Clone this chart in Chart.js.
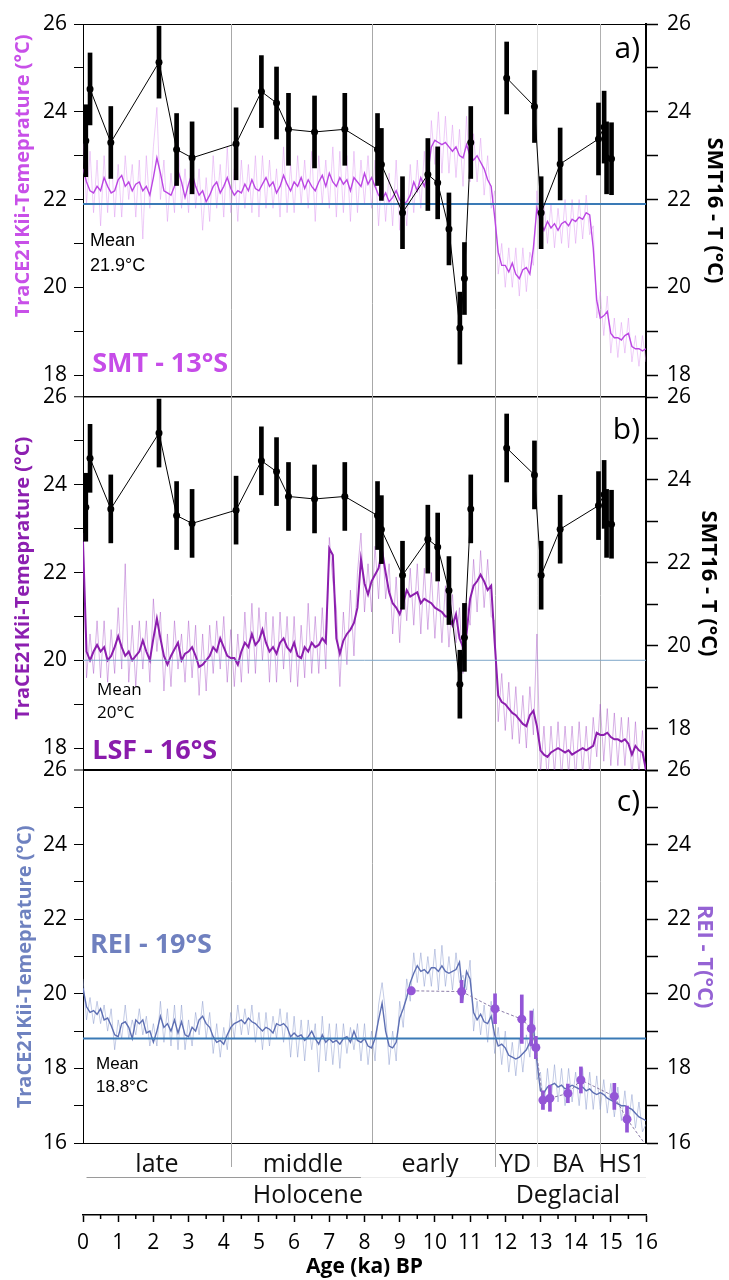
<!DOCTYPE html>
<html>
<head>
<meta charset="utf-8">
<title>TraCE21Kii temperature - SMT, LSF, REI</title>
<script src="https://cdn.jsdelivr.net/npm/chart.js@4.4.1/dist/chart.umd.min.js"></script>
<style>
  html, body { margin: 0; padding: 0; background: #ffffff; }
  canvas { display: block; }
</style>
</head>
<body>
<canvas id="chart" width="729" height="1280"></canvas>
<script>
// model sample ages (ka BP)
const ages = [
  0,0.1,0.2,0.3,0.4,0.5,0.6,0.7,0.8,0.9,
  1,1.1,1.2,1.3,1.4,1.5,1.6,1.7,1.8,1.9,
  2,2.1,2.2,2.3,2.4,2.5,2.6,2.7,2.8,2.9,
  3,3.1,3.2,3.3,3.4,3.5,3.6,3.7,3.8,3.9,
  4,4.1,4.2,4.3,4.4,4.5,4.6,4.7,4.8,4.9,
  5,5.1,5.2,5.3,5.4,5.5,5.6,5.7,5.8,5.9,
  6,6.1,6.2,6.3,6.4,6.5,6.6,6.7,6.8,6.9,
  7,7.1,7.2,7.3,7.4,7.5,7.6,7.7,7.8,7.9,
  8,8.1,8.2,8.3,8.4,8.5,8.6,8.7,8.8,8.9,
  9,9.1,9.2,9.3,9.4,9.5,9.6,9.7,9.8,9.9,
  10,10.1,10.2,10.3,10.4,10.5,10.6,10.7,10.8,10.9,
  11,11.1,11.2,11.3,11.4,11.5,11.6,11.7,11.8,11.9,
  12,12.1,12.2,12.3,12.4,12.5,12.6,12.7,12.8,12.9,
  13,13.1,13.2,13.3,13.4,13.5,13.6,13.7,13.8,13.9,
  14,14.1,14.2,14.3,14.4,14.5,14.6,14.7,14.8,14.9,
  15,15.1,15.2,15.3,15.4,15.5,15.6,15.7,15.8,15.9,
  16
];

// SMT - 13°S, TraCE21Kii (smoothed and raw)
const smtModel = [
  22.7,22.4,22.2,22.15,22.3,22.2,22.5,22.3,22.15,22.2,
  22.45,22.55,22.3,22.4,22.2,22.35,22.4,22.2,22.3,22.1,
  22.5,22.95,22.6,22.2,22.15,22.1,22.3,22.65,22.4,22.05,
  22.35,22.6,22.3,22.1,22.2,21.95,22.1,22.3,22.4,22.15,
  22.3,22.5,22.25,22.1,22.2,22.15,22.35,22.2,22.45,22.25,
  22.2,22.35,22.5,22.3,22.4,22.15,22.3,22.55,22.35,22.2,
  22.4,22.3,22.5,22.25,22.45,22.3,22.2,22.4,22.55,22.3,
  22.6,22.4,22.3,22.5,22.35,22.45,22.2,22.5,22.4,22.3,
  22.6,22.35,22.5,22.3,22.1,22.0,22.15,21.95,22.05,22.2,
  22.0,21.9,21.95,22.1,22.4,22.2,22.5,22.3,22.6,23.2,
  23.35,23.3,23.25,23.3,23.2,23.1,23.2,23.0,22.95,23.25,
  23.0,22.9,23.0,22.85,22.7,22.45,22.3,21.6,20.8,20.5,
  20.5,20.35,20.55,20.3,20.2,20.4,20.45,20.3,20.9,21.8,
  21.5,21.3,21.5,21.35,21.45,21.3,21.45,21.5,21.4,21.55,
  21.5,21.6,21.55,21.7,21.65,20.9,19.7,19.3,19.35,19.45,
  18.95,18.85,18.85,18.8,18.9,18.95,18.65,18.6,18.6,18.55,
  18.6
];
const smtRaw = [
  23.4,21.9,23.1,21.7,22.9,21.4,23.0,21.7,23.1,21.6,
  22.8,21.6,23.0,22.0,22.8,21.6,22.9,21.1,23.0,21.8,
  23.2,24.1,22.0,22.9,21.5,22.6,21.7,23.5,21.8,22.7,
  21.7,23.3,21.8,22.7,21.3,22.5,21.5,23.0,21.8,22.8,
  21.6,23.2,21.7,22.7,21.5,22.9,21.8,22.8,21.7,23.0,
  21.6,23.0,21.8,22.9,21.8,22.7,21.6,23.2,21.7,22.8,
  21.7,23.0,21.9,22.9,21.8,23.1,21.5,23.0,21.9,22.9,
  21.8,23.2,21.6,23.1,21.7,23.0,21.5,23.1,21.7,22.9,
  21.9,23.0,21.8,22.9,21.4,22.7,21.5,22.6,21.4,22.9,
  21.3,22.5,21.4,22.8,21.7,22.9,21.8,23.1,21.9,23.8,
  22.8,24.0,22.6,23.9,22.6,23.7,22.5,23.6,22.3,23.9,
  22.4,23.5,22.4,23.4,22.1,23.0,21.8,22.2,20.3,21.0,
  20.0,20.9,20.0,20.9,19.8,20.9,19.9,20.8,20.5,22.2,
  21.0,21.9,21.0,21.9,20.9,21.8,21.0,22.0,20.9,22.0,
  21.0,22.0,21.1,22.1,21.2,21.4,19.3,19.9,18.9,19.8,
  18.5,19.3,18.4,19.2,18.5,19.3,18.3,18.9,18.2,18.9,
  18.3
];

// LSF - 16°S, TraCE21Kii
const lsfModel = [
  22.7,20.2,20.0,20.2,20.35,20.2,20.3,20.0,20.1,20.3,
  20.55,20.3,20.1,20.2,20.0,20.1,20.2,20.45,20.2,20.0,
  20.5,20.95,20.5,20.1,19.9,20.1,20.25,20.4,20.0,20.15,
  20.2,20.3,20.1,19.85,19.9,20.0,20.1,20.3,20.2,20.5,
  20.3,20.1,20.05,20.05,19.9,20.2,20.4,20.3,20.6,20.35,
  20.45,20.7,20.4,20.2,20.3,20.15,20.4,20.5,20.3,20.2,
  20.4,20.1,20.05,20.3,20.2,20.4,20.3,20.35,20.5,20.4,
  22.55,22.4,20.5,20.15,20.45,20.6,20.7,20.85,21.2,22.3,
  21.75,21.5,21.8,21.95,22.1,22.5,22.0,21.55,21.3,21.2,
  21.05,21.3,21.6,21.45,21.5,21.55,21.3,21.4,21.35,21.3,
  21.2,21.15,21.1,21.0,21.0,20.8,21.05,20.5,20.3,20.6,
  21.4,21.7,21.8,21.95,21.8,21.6,21.7,20.4,19.2,19.05,
  19.0,18.9,18.8,18.75,18.65,18.55,18.5,18.75,18.85,18.5,
  17.95,17.85,17.8,17.9,17.95,18.0,17.95,17.9,17.95,17.85,
  17.9,17.95,18.0,17.95,18.0,18.05,18.35,18.3,18.3,18.35,
  18.25,18.2,18.2,18.15,18.2,18.1,17.85,18.05,17.95,17.9,
  17.5
];
const lsfRaw = [
  22.9,19.6,20.6,19.7,20.9,19.6,20.9,19.5,20.7,19.7,
  21.2,19.8,22.2,19.5,20.8,19.4,20.9,19.8,20.9,19.5,
  21.4,20.2,21.1,19.3,20.6,19.4,20.9,19.8,20.6,19.5,
  20.9,19.6,20.8,19.2,20.6,19.3,20.8,19.7,20.9,19.8,
  21.0,19.5,20.7,19.4,20.6,19.5,21.1,19.7,21.3,19.7,
  21.2,20.0,21.1,19.5,21.0,19.5,21.1,19.8,21.0,19.5,
  21.0,19.4,20.8,19.6,21.3,19.7,21.0,19.7,21.2,19.8,
  22.8,21.8,21.2,19.4,21.1,19.9,21.6,20.1,22.0,22.9,
  21.1,22.2,21.1,22.6,21.4,22.9,21.4,22.2,20.6,21.9,
  20.4,22.0,20.9,22.1,20.8,22.2,20.6,22.1,20.7,22.0,
  20.5,21.8,20.4,21.7,20.3,21.5,20.4,21.2,19.7,21.3,
  20.8,22.3,21.1,22.5,21.2,22.3,21.0,20.9,18.6,19.7,
  18.4,19.5,18.2,19.4,18.1,19.2,18.0,19.4,18.3,20.6,
  17.4,18.5,17.2,18.5,17.4,18.6,17.3,18.5,17.4,18.5,
  17.3,18.6,17.4,18.5,17.4,18.7,17.8,19.0,17.7,18.9,
  17.6,18.8,17.6,18.7,17.6,18.7,17.3,18.6,17.4,18.4,
  17.2
];

// REI - 19°S, TraCE21Kii
const reiModel = [
  20.15,19.65,19.5,19.55,19.45,19.6,19.3,19.35,19.15,18.9,
  18.85,19.2,19.25,19.1,18.8,19.3,19.2,19.3,18.95,19.0,
  18.7,19.0,19.4,19.1,19.2,19.0,19.3,18.95,19.25,18.9,
  18.85,19.1,19.0,19.3,19.4,19.2,19.1,18.85,18.7,18.75,
  18.65,18.9,19.1,19.2,19.25,19.3,19.2,19.35,19.25,19.2,
  19.1,19.0,19.1,19.05,18.95,19.2,19.15,19.2,19.1,18.85,
  18.95,18.85,18.9,18.75,18.85,19.0,18.8,18.65,18.9,18.7,
  18.8,18.7,18.75,18.65,18.8,18.85,18.7,19.0,18.75,18.7,
  18.8,18.6,18.55,18.8,19.3,19.75,19.0,18.6,18.55,18.7,
  19.35,19.6,19.9,20.3,20.55,20.75,20.6,20.65,20.55,20.7,
  20.7,20.6,20.75,20.6,20.55,20.6,20.65,20.85,19.9,20.6,
  20.4,19.5,19.3,19.45,19.25,19.2,19.4,18.9,18.6,18.65,
  18.55,18.35,18.3,18.25,18.3,18.4,18.5,18.7,19.1,18.2,
  17.4,17.35,17.5,17.55,17.6,17.5,17.55,17.45,17.5,17.55,
  17.5,17.45,17.5,17.4,17.45,17.35,17.3,17.35,17.3,17.2,
  17.15,17.1,17.05,17.0,17.0,16.95,16.9,16.8,16.7,16.65,
  16.6
];
const reiRaw = [
  20.4,19.3,19.9,19.2,19.8,19.2,19.7,19.0,19.6,18.5,
  19.3,18.8,19.7,18.8,19.3,18.9,19.6,18.9,19.4,18.6,
  19.2,18.6,19.8,18.7,19.6,18.6,19.7,18.5,19.7,18.5,
  19.3,18.6,19.5,18.9,19.8,18.8,19.5,18.4,19.2,18.3,
  19.1,18.5,19.5,18.8,19.7,18.9,19.6,18.9,19.7,18.7,
  19.5,18.5,19.5,18.6,19.4,18.8,19.6,18.7,19.5,18.3,
  19.4,18.3,19.3,18.2,19.3,18.5,19.2,17.9,19.4,18.2,
  19.2,18.1,19.2,18.0,19.2,18.4,19.1,18.5,19.2,18.2,
  19.2,18.1,19.0,18.2,19.7,20.3,19.5,18.1,19.0,18.2,
  19.8,19.1,20.4,19.8,21.1,20.3,21.1,20.2,21.0,20.2,
  21.2,20.1,21.3,20.2,21.0,20.1,21.1,20.3,20.5,20.1,
  20.9,19.0,19.8,18.9,19.7,18.7,19.8,18.4,19.1,18.1,
  19.0,17.9,18.7,17.8,18.8,17.9,18.9,18.3,19.6,17.7,
  17.9,16.9,18.0,17.1,18.1,17.1,18.0,17.0,18.0,17.1,
  17.9,17.0,18.0,16.9,17.9,16.9,17.8,16.9,17.7,16.8,
  17.6,16.7,17.5,16.6,17.4,16.5,17.3,16.4,17.1,16.3,
  16.5
];

// SMT16 reconstruction (null = gap in the record)
const smtAge = [0.08,0.2,0.79,2.16,2.66,3.1,4.35,5.07,5.5,5.84,6.58,7.44,8.37,8.48,9.08,9.8,10.08,10.4,10.71,10.84,11.02,11.5,12.04,12.83,13.02,13.56,14.65,14.81,14.88,15.02];
const smtT   = [23.34,24.52,23.3,25.13,23.14,22.95,23.27,24.46,24.2,23.6,23.54,23.6,23.14,22.8,21.7,22.57,22.38,21.33,19.07,20.2,23.3,null,24.77,24.12,21.7,22.81,23.38,23.65,22.95,22.93];
const smtErr = [0.82,0.82,0.82,0.82,0.82,0.82,0.82,0.82,0.82,0.82,0.82,0.82,0.82,0.82,0.82,0.82,0.82,0.82,0.82,0.82,0.82,null,0.82,0.82,0.82,0.82,0.82,0.82,0.82,0.82];

// REI reconstruction
const reiAge = [9.33,10.76,11.71,12.47,12.74,12.87,13.07,13.27,13.78,14.15,15.1,15.46,16.3];
const reiT   = [20.08,20.06,19.6,19.32,19.07,18.56,17.15,17.2,17.33,17.69,17.25,16.64,15.55];
const reiErr = [0.1,0.3,0.4,0.65,0.47,0.3,0.25,0.35,0.25,0.35,0.35,0.35,0];

// TraCE mean of each site
const means = [21.9, 20.0, 18.8];

// period boundaries and labels
const eraBounds = [4.2, 8.2, 11.7, 12.9, 14.7];
const eraNames = ['late', 'middle', 'early', 'YD', 'BA', 'HS1'];
const eraCenters = [2.1, 6.25, 9.86, 12.28, 13.78, 15.32];
const epochNames = ['Holocene', 'Deglacial'];
const epochCenters = [6.39, 13.78];
const holoceneSpan = [0.1, 7.9];

// ---- styling / layout ----
const panelWeights = [373, 373, 373, 72];
const eraLineColor = ['#a8a8a8', '#a8a8a8', '#a8a8a8', '#dedede', '#b0b0b0'];
const eraLineDrop = [24, 0, 24, 24, 24];
const NB = '\u00a0';

const notes = [
  { text: 'a)', scale: 'ya', x: 15.83, y: 25.41, align: 'right', font: '30px "Open Sans"', color: '#000' },
  { text: 'b)', scale: 'yb', x: 15.83, y: 25.23, align: 'right', font: '30px "Open Sans"', color: '#000' },
  { text: 'c)', scale: 'yc', x: 15.83, y: 25.14, align: 'right', font: '30px "Open Sans"', color: '#000' },
  { text: 'SMT - 13°S', scale: 'ya', x: 0.26, y: 18.25, align: 'left', font: 'bold 27px "Open Sans"', color: '#c64ce8' },
  { text: 'LSF - 16°S', scale: 'yb', x: 0.26, y: 17.93, align: 'left', font: 'bold 27px "Open Sans"', color: '#8a1bac' },
  { text: 'REI - 19°S', scale: 'yc', x: 0.2, y: 21.31, align: 'left', font: 'bold 27px "Open Sans"', color: '#6f80bf' },
  { text: 'Mean', scale: 'ya', x: 0.2, y: 21.05, align: 'left', font: '18px "Liberation Sans"', color: '#000' },
  { text: '21.9°C', scale: 'ya', x: 0.2, y: 20.48, align: 'left', font: '18px "Liberation Sans"', color: '#000' },
  { text: 'Mean', scale: 'yb', x: 0.4, y: 19.32, align: 'left', font: '17px "Open Sans"', color: '#000' },
  { text: '20°C', scale: 'yb', x: 0.4, y: 18.8, align: 'left', font: '17px "Open Sans"', color: '#000' },
  { text: 'Mean', scale: 'yc', x: 0.37, y: 18.12, align: 'left', font: '17px "Liberation Sans"', color: '#000' },
  { text: '18.8°C', scale: 'yc', x: 0.37, y: 17.5, align: 'left', font: '17px "Liberation Sans"', color: '#000' }
];

Chart.defaults.font.family = '"Open Sans", "DejaVu Sans", sans-serif';
Chart.defaults.color = '#000';

const xy = (xs, ys) => xs.map((x, i) => ({ x: x, y: ys[i] }));
const bars = (xs, ys, es) => xs
  .map((x, i) => (ys[i] == null ? null : { x: x, y: [ys[i] - es[i], ys[i] + es[i]] }))
  .filter(Boolean);
const flat = v => [{ x: ages[0], y: v }, { x: ages[ages.length - 1], y: v }];

function panelAxis(o) {
  const left = o.side === 'L';
  return {
    type: 'linear',
    position: left ? 'left' : 'right',
    stack: o.side,
    stackWeight: o.stackWeight,
    weight: o.weight,
    min: o.min,
    max: o.max,
    border: { display: true, color: '#000', width: left ? 1 : 2 },
    grid: {
      drawOnChartArea: left,
      color: ctx => (ctx.tick && o.edges.indexOf(ctx.tick.value) >= 0 ? '#000' : 'rgba(0,0,0,0)'),
      lineWidth: ctx => (ctx.tick && ctx.tick.value === o.max ? o.edgeWidth : 1),
      tickColor: '#000',
      tickLength: left ? 9 : 12,
      tickWidth: left ? 1 : 1.5
    },
    ticks: {
      stepSize: 1,
      includeBounds: false,
      autoSkip: false,
      padding: left ? 7 : 9,
      font: { size: 21 },
      color: '#000',
      callback: v => (Math.round(v) % 2 === 0 ? String(Math.round(v)) : '')
    },
    title: {
      display: true,
      text: o.title,
      color: o.titleColor,
      align: o.titleAlign || 'center',
      font: { size: o.titleSize, weight: 'bold' },
      padding: { top: o.titlePad, bottom: 0 }
    },
    afterFit: s => { s.width = 83; }
  };
}

function bandAxis(side, weight) {
  return {
    type: 'linear',
    position: side === 'L' ? 'left' : 'right',
    stack: side,
    stackWeight: panelWeights[3],
    weight: weight,
    min: 0,
    max: 1,
    border: { display: false },
    grid: { display: false },
    ticks: { display: false },
    afterFit: s => { s.width = 83; }
  };
}

const overlay = {
  id: 'overlay',
  beforeDatasetsDraw(chart) {
    const { ctx, chartArea, scales } = chart;
    const x = scales.x, yc = scales.yc;
    ctx.save();
    ctx.lineWidth = 1;
    eraBounds.forEach((v, i) => {
      const px = Math.round(x.getPixelForValue(v)) + 0.5;
      ctx.strokeStyle = eraLineColor[i];
      ctx.beginPath();
      ctx.moveTo(px, chartArea.top);
      ctx.lineTo(px, yc.bottom + eraLineDrop[i]);
      ctx.stroke();
    });
    ctx.restore();
  },
  beforeDatasetDraw(chart, args) {
    const ys = args.meta.yScale, a = chart.chartArea, ctx = chart.ctx;
    ctx.save();
    ctx.beginPath();
    ctx.rect(a.left, ys.top, a.right - a.left, ys.bottom - ys.top);
    ctx.clip();
  },
  afterDatasetDraw(chart) {
    chart.ctx.restore();
  },
  afterDraw(chart) {
    const { ctx, scales } = chart;
    const x = scales.x, yc = scales.yc;
    ctx.save();
    notes.forEach(n => {
      ctx.font = n.font;
      ctx.fillStyle = n.color;
      ctx.textAlign = n.align;
      ctx.textBaseline = 'middle';
      ctx.fillText(n.text, x.getPixelForValue(n.x), scales[n.scale].getPixelForValue(n.y));
    });
    // period labels under the last panel
    ctx.font = '25px "Open Sans"';
    ctx.fillStyle = '#111';
    ctx.textAlign = 'center';
    ctx.textBaseline = 'alphabetic';
    eraNames.forEach((t, i) => ctx.fillText(t, x.getPixelForValue(eraCenters[i]), yc.bottom + 29));
    epochNames.forEach((t, i) => ctx.fillText(t, x.getPixelForValue(epochCenters[i]), yc.bottom + 60));
    ctx.strokeStyle = '#9a9a9a';
    ctx.lineWidth = 1;
    ctx.beginPath();
    ctx.moveTo(x.getPixelForValue(holoceneSpan[0]), yc.bottom + 34.5);
    ctx.lineTo(x.getPixelForValue(holoceneSpan[1]), yc.bottom + 34.5);
    ctx.stroke();
    ctx.strokeStyle = '#ececec';
    ctx.beginPath();
    ctx.moveTo(x.getPixelForValue(holoceneSpan[1]), yc.bottom + 34.5);
    ctx.lineTo(x.right, yc.bottom + 34.5);
    ctx.stroke();
    // minor ticks of the age axis
    ctx.strokeStyle = '#000';
    ctx.lineWidth = 1.5;
    for (let v = x.min + 0.5; v < x.max; v += 1) {
      const px = x.getPixelForValue(v);
      ctx.beginPath();
      ctx.moveTo(px, x.top);
      ctx.lineTo(px, x.top + 4);
      ctx.stroke();
    }
    ctx.restore();
  }
};

const datasets = [
  // a) SMT
  { type: 'line', data: xy(smtAge, smtT), yAxisID: 'ra', borderColor: '#000', borderWidth: 1, pointRadius: 3.5, pointBackgroundColor: '#000', pointBorderWidth: 0, order: 0 },
  { type: 'bar', data: bars(smtAge, smtT, smtErr), yAxisID: 'ra', backgroundColor: '#000', barThickness: 4, grouped: false, borderWidth: 0, order: 1 },
  { type: 'line', data: flat(means[0]), yAxisID: 'ya', borderColor: '#3a7ab6', borderWidth: 2, pointRadius: 0, order: 2 },
  { type: 'line', data: xy(ages, smtModel), yAxisID: 'ya', borderColor: '#bb46e3', borderWidth: 1.4, pointRadius: 0, order: 3 },
  { type: 'line', data: xy(ages, smtRaw), yAxisID: 'ya', borderColor: 'rgba(218,145,240,0.5)', borderWidth: 0.9, pointRadius: 0, order: 4 },
  // b) LSF
  { type: 'line', data: xy(smtAge, smtT), yAxisID: 'rb', borderColor: '#000', borderWidth: 1, pointRadius: 3.5, pointBackgroundColor: '#000', pointBorderWidth: 0, order: 0 },
  { type: 'bar', data: bars(smtAge, smtT, smtErr), yAxisID: 'rb', backgroundColor: '#000', barThickness: 4, grouped: false, borderWidth: 0, order: 1 },
  { type: 'line', data: flat(means[1]), yAxisID: 'yb', borderColor: '#7ea6c8', borderWidth: 1, pointRadius: 0, order: 2 },
  { type: 'line', data: xy(ages, lsfModel), yAxisID: 'yb', borderColor: '#8c1eae', borderWidth: 2, pointRadius: 0, order: 3 },
  { type: 'line', data: xy(ages, lsfRaw), yAxisID: 'yb', borderColor: 'rgba(168,85,200,0.5)', borderWidth: 0.9, pointRadius: 0, order: 4 },
  // c) REI
  { type: 'line', data: xy(reiAge, reiT), yAxisID: 'rc', borderColor: '#8a7ca8', borderWidth: 1, borderDash: [3, 2], pointRadius: 4.5, pointBackgroundColor: '#9355d6', pointBorderWidth: 0, order: 0 },
  { type: 'bar', data: bars(reiAge, reiT, reiErr), yAxisID: 'rc', backgroundColor: '#9355d6', barThickness: 3, grouped: false, borderWidth: 0, order: 1 },
  { type: 'line', data: flat(means[2]), yAxisID: 'yc', borderColor: '#3a7ab6', borderWidth: 2, pointRadius: 0, order: 2 },
  { type: 'line', data: xy(ages, reiModel), yAxisID: 'yc', borderColor: '#5d6fb3', borderWidth: 1.4, pointRadius: 0, order: 3 },
  { type: 'line', data: xy(ages, reiRaw), yAxisID: 'yc', borderColor: 'rgba(135,150,205,0.55)', borderWidth: 0.9, pointRadius: 0, order: 4 }
];

const leftTitle = 'TraCE21Kii-Temeprature (°C)';

new Chart(document.getElementById('chart').getContext('2d'), {
  type: 'line',
  data: { datasets: datasets },
  plugins: [overlay],
  options: {
    responsive: false,
    animation: false,
    events: [],
    devicePixelRatio: 1,
    layout: { padding: { top: 24, left: 0, right: 0, bottom: 0 } },
    plugins: { legend: { display: false }, tooltip: { enabled: false } },
    scales: {
      x: {
        type: 'linear',
        position: 'bottom',
        min: 0,
        max: 16,
        offset: false,
        border: { display: true, color: '#000', width: 1.5 },
        grid: { drawOnChartArea: false, offset: false, tickLength: 7, tickColor: '#000', tickWidth: 1.5 },
        ticks: { stepSize: 1, autoSkip: false, maxRotation: 0, padding: 8, font: { size: 21 }, color: '#000' },
        title: { display: true, text: 'Age (ka) BP', font: { size: 21, weight: 'bold' }, padding: { top: 0, bottom: 0 } },
        afterFit: s => { s.height = 65; }
      },
      ya: panelAxis({ side: 'L', weight: 4, stackWeight: panelWeights[0], min: 17.5, max: 26, edges: [26], edgeWidth: 1,
        title: leftTitle + NB + NB, titleAlign: 'end', titleColor: '#c850e8', titleSize: 20, titlePad: 11 }),
      yb: panelAxis({ side: 'L', weight: 3, stackWeight: panelWeights[1], min: 17.5, max: 26, edges: [26], edgeWidth: 1.5,
        title: NB + NB + leftTitle, titleColor: '#8c1fb0', titleSize: 20, titlePad: 11 }),
      yc: panelAxis({ side: 'L', weight: 2, stackWeight: panelWeights[2], min: 16, max: 26, edges: [26, 16], edgeWidth: 2,
        title: leftTitle + NB + NB + NB + NB, titleColor: '#6f82c0', titleSize: 20, titlePad: 13 }),
      yband: bandAxis('L', 1),
      ra: panelAxis({ side: 'R', weight: 1, stackWeight: panelWeights[0], min: 17.5, max: 26, edges: [], edgeWidth: 1,
        title: 'SMT16 - T (°C)', titleColor: '#000', titleSize: 22, titlePad: 2 }),
      rb: panelAxis({ side: 'R', weight: 2, stackWeight: panelWeights[1], min: 17, max: 26, edges: [], edgeWidth: 1,
        title: 'SMT16 - T (°C)', titleColor: '#000', titleSize: 22, titlePad: 8 }),
      rc: panelAxis({ side: 'R', weight: 3, stackWeight: panelWeights[2], min: 16, max: 26, edges: [], edgeWidth: 1,
        title: 'REI - T(°C)', titleColor: '#9563d4', titleSize: 22, titlePad: 12 }),
      rband: bandAxis('R', 4)
    }
  }
});
</script>
</body>
</html>
